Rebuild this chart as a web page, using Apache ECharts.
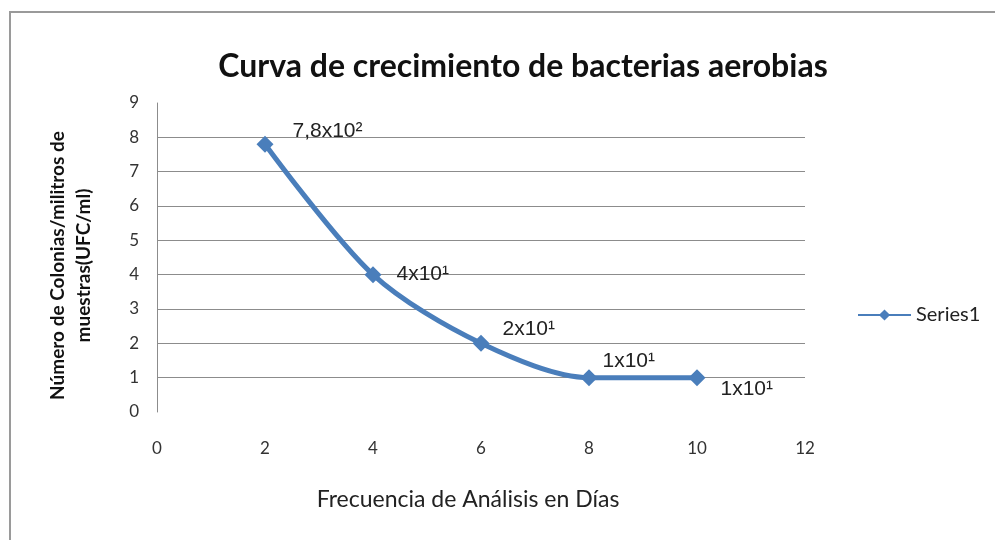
<!DOCTYPE html>
<html>
<head>
<meta charset="utf-8">
<title>Curva de crecimiento</title>
<script src="https://cdn.jsdelivr.net/npm/echarts@6/dist/echarts.min.js"></script>
<style>
    html, body { margin: 0; padding: 0; background: #fff; }
    #chart { width: 995px; height: 540px; }
</style>
</head>
<body>
<div id="chart"></div>
<script>
    // datos
    var dias = [2, 4, 6, 8, 10];
    var colonias = [7.8, 4, 2, 1, 1];
    var etiquetas = ['7,8x10²', '4x10¹', '2x10¹', '1x10¹', '1x10¹'];
    var etiquetaOffset = [[14, -13], [10, 0], [8, -14], [0, -16], [10, 12]];

    var chart = echarts.init(document.getElementById('chart'));

    var puntos = dias.map(function (d, i) {
        return {
            value: [d, colonias[i]],
            label: { offset: etiquetaOffset[i] }
        };
    });

    // lineas de la rejilla: sin linea en 0 ni en 9
    var gridColors = ['rgba(0,0,0,0)'];
    for (var i = 1; i <= 8; i++) gridColors.push('#8c8c8c');
    gridColors.push('rgba(0,0,0,0)');

    var option = {
        backgroundColor: '#fff',
        graphic: [{
            type: 'rect',
            shape: { x: 10, y: 12, width: 1000, height: 540 },
            style: { fill: 'none', stroke: '#9a9a9a', lineWidth: 2 },
            silent: true
        }],
        title: {
            text: 'Curva de crecimiento de bacterias aerobias',
            left: 518,
            textAlign: 'center',
            top: 46,
            textStyle: { fontFamily: 'Lato', fontSize: 32, fontWeight: 'bold', color: '#111' }
        },
        legend: {
            left: 852,
            top: 300,
            itemWidth: 53,
            itemHeight: 14,
            textStyle: { fontFamily: 'Lato', fontSize: 20, color: '#222' },
            data: ['Series1']
        },
        grid: { left: 157, right: 190, top: 103, bottom: 128 },
        xAxis: {
            type: 'value',
            min: 0,
            max: 12,
            interval: 2,
            name: 'Frecuencia de Análisis en Días',
            nameLocation: 'middle',
            nameGap: 76,
            nameTextStyle: { fontFamily: 'Lato', fontSize: 23, color: '#222', padding: [0, 26, 0, 0] },
            axisLine: { show: false },
            axisTick: { show: false },
            splitLine: { show: false },
            axisLabel: { margin: 28, fontFamily: 'Lato', fontSize: 17, color: '#333' }
        },
        yAxis: {
            type: 'value',
            min: 0,
            max: 9,
            interval: 1,
            name: 'Número de Colonias/militros de\nmuestras(UFC/ml)',
            nameLocation: 'middle',
            nameGap: 60,
            nameTextStyle: { fontFamily: 'Lato', fontSize: 19, fontWeight: 'bold', color: '#111', lineHeight: 26, padding: [0, 16, 0, 0] },
            axisLine: { show: true, lineStyle: { color: '#8c8c8c', width: 1 } },
            axisTick: { show: false },
            axisLabel: { margin: 18, fontFamily: 'Lato', fontSize: 17, color: '#333' },
            splitLine: { show: true, lineStyle: { color: gridColors, width: 1 } }
        },
        series: [{
            name: 'Series1',
            type: 'line',
            smooth: 0.3,
            data: puntos,
            symbol: 'diamond',
            symbolSize: 17,
            itemStyle: { color: '#4a7ebb' },
            lineStyle: { color: '#4a7ebb', width: 5 },
            label: {
                show: true,
                position: 'right',
                fontFamily: 'Liberation Sans',
                fontSize: 21,
                color: '#222',
                formatter: function (p) { return etiquetas[p.dataIndex]; }
            }
        }]
    };

    chart.setOption(option);
</script>
</body>
</html>
